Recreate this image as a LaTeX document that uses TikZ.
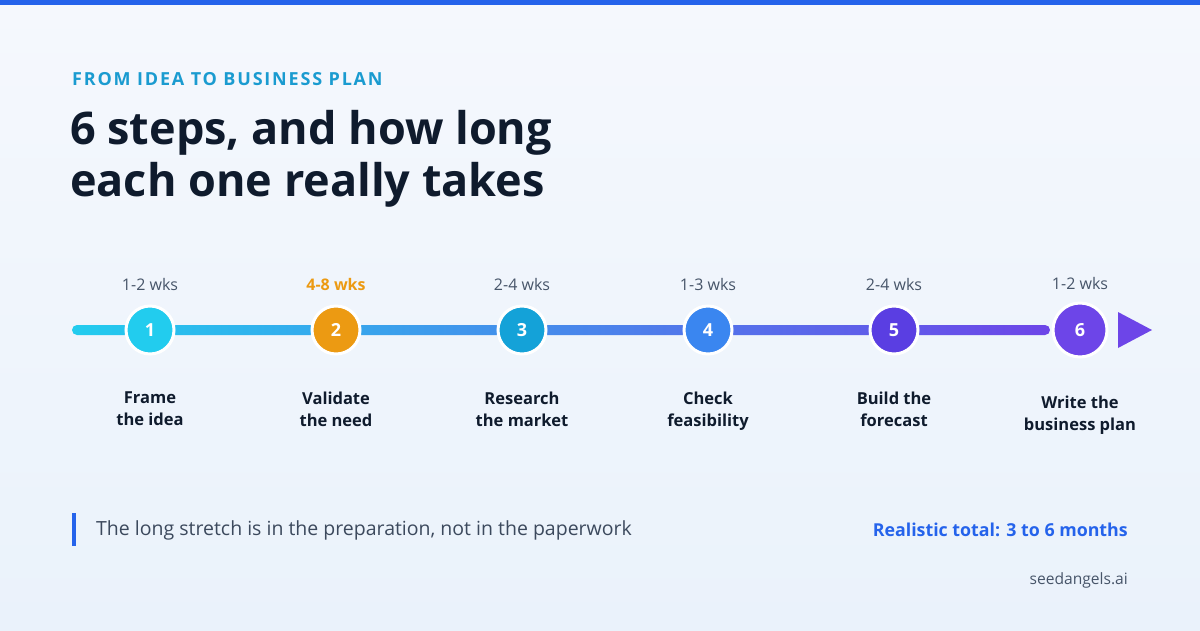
\documentclass[tikz,border=0pt]{standalone}
\usepackage{fontspec}
\setmainfont{Open Sans}
\usetikzlibrary{positioning}
\definecolor{bgtop}{HTML}{F5F8FD}
\definecolor{bgbot}{HTML}{EAF2FB}
\definecolor{brand}{HTML}{2563EB}
\definecolor{kicker}{HTML}{1A9BD0}
\definecolor{ink}{HTML}{0F1B2D}
\definecolor{muted}{HTML}{475569}
\definecolor{cOne}{HTML}{22CCEE}
\definecolor{cTwo}{HTML}{EC9A12}
\definecolor{cThree}{HTML}{14A2D8}
\definecolor{cFour}{HTML}{3A86F0}
\definecolor{cFive}{HTML}{5A3EE2}
\definecolor{cSix}{HTML}{6D45E8}
\begin{document}
\begin{tikzpicture}[x=1pt, y=-1pt,
  stepnode/.style={circle, minimum size=48pt, inner sep=0pt, draw=white, line width=3pt, text=white, font=\bfseries\fontsize{18}{18}\selectfont},
  wks/.style={text=muted, font=\fontsize{16}{16}\selectfont},
  lbl/.style={text=ink, align=center, font=\bfseries\fontsize{16.5}{22}\selectfont}]
\useasboundingbox (0,0) rectangle (1200,630);
\shade[top color=bgtop, bottom color=bgbot] (0,0) rectangle (1200,630);
\fill[brand] (0,0) rectangle (1200,5);
% heading
\node[anchor=west, inner sep=0pt, text=kicker, font=\bfseries\fontsize{18}{18}\selectfont] (kick) at (72,79) {\addfontfeature{LetterSpace=10}FROM IDEA TO BUSINESS PLAN};
\node[anchor=north west, inner sep=0pt, text=ink, align=left, font=\bfseries\fontsize{45}{52}\selectfont] (title) at (70,110) {6 steps, and how long\\each one really takes};
% timeline
\shade[left color=cOne, middle color=brand, right color=cSix, rounded corners=5pt] (72,325) rectangle (1050,335);
\fill[cSix] (1118,312) -- (1152,330) -- (1118,348) -- cycle;
\node[stepnode, fill=cOne] (s1) at (150,330) {1};
\node[stepnode, fill=cTwo] (s2) at (336,330) {2};
\node[stepnode, fill=cThree] (s3) at (522,330) {3};
\node[stepnode, fill=cFour] (s4) at (708,330) {4};
\node[stepnode, fill=cFive] (s5) at (894,330) {5};
\node[stepnode, fill=cSix, minimum size=54pt] (s6) at (1080,330) {6};
\node[wks, above=10pt of s1] (w1) {1-2 wks};
\node[wks, above=10pt of s2, text=cTwo, font=\bfseries\fontsize{16}{16}\selectfont] (w2) {4-8 wks};
\node[wks, above=10pt of s3] (w3) {2-4 wks};
\node[wks, above=10pt of s4] (w4) {1-3 wks};
\node[wks, above=10pt of s5] (w5) {2-4 wks};
\node[wks, above=8pt of s6] (w6) {1-2 wks};
\node[lbl, below=33pt of s1] (l1) {Frame\\the idea};
\node[lbl, below=33pt of s2] (l2) {Validate\\the need};
\node[lbl, below=33pt of s3] (l3) {Research\\the market};
\node[lbl, below=33pt of s4] (l4) {Check\\feasibility};
\node[lbl, below=33pt of s5] (l5) {Build the\\forecast};
\node[lbl, below=34pt of s6] (l6) {Write the\\business plan};
% footer
\fill[brand] (72,513) rectangle (76,546);
\node[anchor=west, inner sep=0pt, text=muted!80!ink, font=\fontsize{19.5}{19.5}\selectfont] (note) at (96,530) {The long stretch is in the preparation, not in the paperwork};
\node[anchor=east, inner sep=0pt, text=brand, font=\bfseries\fontsize{17.8}{17.8}\selectfont] (total) at (1128,530) {Realistic total: 3 to 6 months};
\node[anchor=east, inner sep=0pt, text=muted, font=\fontsize{15.6}{15.6}\selectfont] (site) at (1128,580) {seedangels.ai};
\end{tikzpicture}
\end{document}
